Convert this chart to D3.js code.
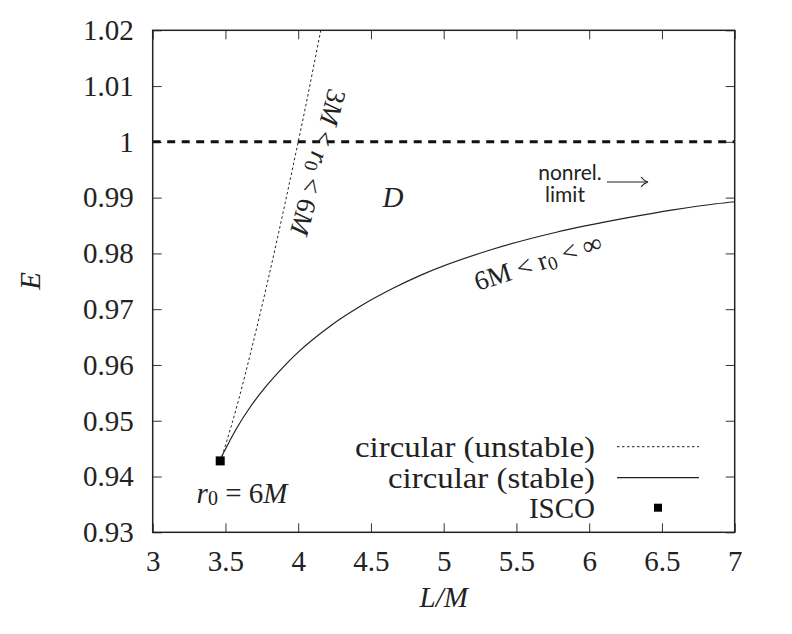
<!DOCTYPE html>
<meta charset="utf-8">
<body style="margin:0; background:#fff">
<script src="https://cdn.jsdelivr.net/npm/d3@7"></script>
<script>
// stable circular orbits (r0 > 6M)
var stableL = [3.464, 3.474, 3.500, 3.578, 3.674, 3.780, 3.889, 4.000, 4.221, 4.438, 4.648, 4.851, 5.330, 5.774, 6.267, 6.576, 6.872, 7.015];
var stableE = [0.9428, 0.9435, 0.9449, 0.9487, 0.9526, 0.9562, 0.9594, 0.9623, 0.9670, 0.9707, 0.9737, 0.9762, 0.9807, 0.9838, 0.9864, 0.9878, 0.9889, 0.9893];
// unstable circular orbits (3M < r0 < 6M)
var unstableL = [3.464, 3.467, 3.479, 3.536, 3.591, 3.674, 3.801, 3.909, 4.000, 4.053, 4.111, 4.176];
var unstableE = [0.9428, 0.9430, 0.9439, 0.9487, 0.9538, 0.9623, 0.9762, 0.9889, 1.0000, 1.0066, 1.0142, 1.0227];
var isco = [3.464, 0.9428];
var nonrelE = 1.0;
var xTicks = [3, 3.5, 4, 4.5, 5, 5.5, 6, 6.5, 7];
var yTicks = [0.93, 0.94, 0.95, 0.96, 0.97, 0.98, 0.99, 1, 1.01, 1.02];

var width = 792, height = 634;
var margin = {left: 152.7, right: 57.3, top: 30.3, bottom: 101.7};
var w = width - margin.left - margin.right,
    h = height - margin.top - margin.bottom;
var serif = "'Liberation Serif'";
var sans = "'Lato'";

var svg = d3.select("body").append("svg")
    .attr("width", width)
    .attr("height", height);

var x = d3.scaleLinear().domain([3, 7]).range([margin.left, margin.left + w]);
var y = d3.scaleLinear().domain([0.93, 1.02]).range([margin.top + h, margin.top]);

//text helper
function label(sel, px, py, size, italic) {
    var t = sel.append("text")
        .attr("x", px).attr("y", py)
        .attr("text-anchor", "middle").attr("dominant-baseline", "central")
        .style("font-family", serif).style("font-size", size + "px")
        .style("fill", "#222");
    if (italic) t.style("font-style", "italic");
    return t;
}

svg.append("clipPath").attr("id", "clip")
    .append("rect")
    .attr("x", margin.left).attr("y", margin.top)
    .attr("width", w).attr("height", h);

//ticks on all four sides, pointing inward
var tl = 9;
function styleTicks(g) {
    g.select(".domain").remove();
    g.selectAll("text")
        .style("font-family", serif).style("font-size", "29px").style("fill", "#222");
}
svg.append("g")
    .attr("transform", "translate(0," + (margin.top + h) + ")")
    .call(d3.axisBottom(x).tickValues(xTicks).tickSizeInner(-tl).tickSizeOuter(0).tickPadding(18).tickFormat(d3.format("")))
    .call(styleTicks);
svg.append("g")
    .attr("transform", "translate(0," + margin.top + ")")
    .call(d3.axisTop(x).tickValues(xTicks).tickSizeInner(-tl).tickSizeOuter(0).tickFormat(""))
    .call(styleTicks);
svg.append("g")
    .attr("transform", "translate(" + margin.left + ",0)")
    .call(d3.axisLeft(y).tickValues(yTicks).tickSizeInner(-tl).tickSizeOuter(0).tickPadding(19).tickFormat(d3.format("")))
    .call(styleTicks);
svg.append("g")
    .attr("transform", "translate(" + (margin.left + w) + ",0)")
    .call(d3.axisRight(y).tickValues(yTicks).tickSizeInner(-tl).tickSizeOuter(0).tickFormat(""))
    .call(styleTicks);
svg.selectAll(".tick line").attr("stroke", "#333").attr("stroke-width", 1);

//nonrelativistic limit E = 1
svg.append("line")
    .attr("x1", x(3)).attr("x2", x(7))
    .attr("y1", y(nonrelE)).attr("y2", y(nonrelE))
    .attr("stroke", "#111").attr("stroke-width", 3)
    .attr("stroke-dasharray", "8,6.5");

var line = d3.line()
    .x(function(d) { return x(d[0]); })
    .y(function(d) { return y(d[1]); })
    .curve(d3.curveMonotoneX);

var plot = svg.append("g").attr("clip-path", "url(#clip)");
plot.append("path")
    .datum(d3.zip(unstableL, unstableE))
    .attr("d", line)
    .attr("fill", "none").attr("stroke", "#222").attr("stroke-width", 1)
    .attr("stroke-dasharray", "2.5,2.5");
plot.append("path")
    .datum(d3.zip(stableL, stableE))
    .attr("d", line)
    .attr("fill", "none").attr("stroke", "#222").attr("stroke-width", 1.2);

svg.append("rect")
    .attr("x", x(isco[0]) - 4.5).attr("y", y(isco[1]) - 4.5)
    .attr("width", 9).attr("height", 9).attr("fill", "#000");

//frame
svg.append("rect")
    .attr("x", margin.left).attr("y", margin.top)
    .attr("width", w).attr("height", h)
    .attr("fill", "none").attr("stroke", "#222").attr("stroke-width", 1.5);

//axis titles
label(svg, x(5), 597, 29, true).text("L/M");
label(svg, 0, 0, 29, true)
    .attr("transform", "translate(30,281) rotate(-90)")
    .text("E");

//annotations
var ann = label(svg, 0, 0, 27, false)
    .attr("transform", "translate(318,162) rotate(105)");
ann.append("tspan").text("3");
ann.append("tspan").style("font-style", "italic").text("M");
ann.append("tspan").text(" < ");
ann.append("tspan").style("font-style", "italic").text("r");
ann.append("tspan").style("font-size", "19px").attr("dy", 5).text("0");
ann.append("tspan").attr("dy", -5).text(" < 6");
ann.append("tspan").style("font-style", "italic").text("M");

var ann2 = label(svg, 0, 0, 27, false)
    .attr("transform", "translate(538,262) rotate(-18)");
ann2.append("tspan").text("6M < r");
ann2.append("tspan").style("font-size", "19px").attr("dy", 5).text("0");
ann2.append("tspan").attr("dy", -5).text(" < ∞");

label(svg, 393, 197, 29, true).text("D");

label(svg, 570, 171, 21, false).style("font-family", sans).text("nonrel.");
label(svg, 565, 193, 21, false).style("font-family", sans).text("limit");
svg.append("line")
    .attr("x1", 607).attr("x2", 647).attr("y1", 182).attr("y2", 182)
    .attr("stroke", "#222").attr("stroke-width", 1.2);
svg.append("path")
    .attr("d", "M641,177 Q644,181 648,182 Q644,183 641,187")
    .attr("fill", "none").attr("stroke", "#222").attr("stroke-width", 1.2);

var r0 = label(svg, 242, 493, 29, false);
r0.append("tspan").style("font-style", "italic").text("r");
r0.append("tspan").style("font-size", "20px").attr("dy", 5).text("0");
r0.append("tspan").attr("dy", -5).text(" = 6");
r0.append("tspan").style("font-style", "italic").text("M");

//legend
var legend = svg.append("g");
var rows = [
    {label: "circular (unstable)", y: 446.7, kind: "dot", len: 240},
    {label: "circular (stable)", y: 477.7, kind: "solid", len: 207},
    {label: "ISCO", y: 507.7, kind: "square", len: null}
];
rows.forEach(function(d) {
    var t = label(legend, 595, d.y, 29, false)
        .attr("text-anchor", "end")
        .text(d.label);
    if (d.len) t.attr("textLength", d.len).attr("lengthAdjust", "spacingAndGlyphs");
    if (d.kind == "square") {
        legend.append("rect")
            .attr("x", 654).attr("y", d.y - 4)
            .attr("width", 8).attr("height", 8).attr("fill", "#000");
    } else {
        legend.append("line")
            .attr("x1", 617).attr("x2", 699)
            .attr("y1", d.y).attr("y2", d.y)
            .attr("stroke", "#222")
            .attr("stroke-width", d.kind == "dot" ? 1 : 1.2)
            .attr("stroke-dasharray", d.kind == "dot" ? "2.5,2.5" : null);
    }
});
</script>
</body>
